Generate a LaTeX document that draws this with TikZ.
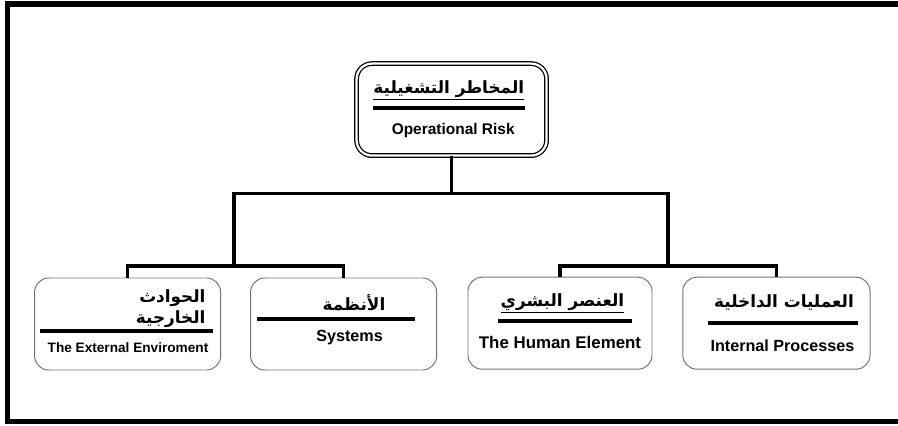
\documentclass[tikz,border=0pt]{standalone}
\usepackage{fontspec}
\setmainfont{Liberation Sans}
\newfontfamily\arabicfont[Script=Arabic]{DejaVu Sans}
\TeXXeTstate=1
\usetikzlibrary{positioning,calc}
\newcommand{\artxt}[1]{{\arabicfont\bfseries\beginR #1\endR}}

\begin{document}
\begin{tikzpicture}[
      font=\bfseries,
      riskbox/.style={draw=black, line width=0.9pt, double=white, double distance=1.6pt,
                      rounded corners=11pt, minimum width=4.75cm, minimum height=2.3cm},
      box/.style={draw=black!55, line width=0.7pt, rounded corners=10pt,
                  minimum width=4.65cm, minimum height=2.3cm},
      artitle/.style={font=\fontsize{12}{14}\selectfont, inner sep=1pt},
      entitle/.style={font=\fontsize{11.5}{13}\selectfont\bfseries, inner sep=1pt},
      bar/.style={line width=2.6pt},
      conn/.style={line width=2.3pt},
      frame/.style={line width=3.6pt}
    ]
    \clip (0,0) rectangle (22.45,-10.65);
    % ------------- Frame -------------
    \draw[frame] (23,-0.1) -- (0.19,-0.1) -- (0.19,-10.54) -- (23,-10.54);
    % ------------- Top -------------
    \node[riskbox] (risk) at (11.29,-2.74) {};
    \node[artitle] (riskAr) at (11.22,-2.26) {\underline{\artxt{المخاطر التشغيلية}}};
    \draw[bar] (9.33,-2.7) -- (13.12,-2.7);
    \node[entitle, font=\fontsize{11}{13}\selectfont\bfseries] (riskEn) at (11.33,-3.25) {Operational Risk};
    % ------------- Boxes -------------
    \node[box] (ext) at (3.19,-8.1) {};
    \node[artitle, align=right, anchor=north east] (extAr) at (5.18,-7.2)
      {\artxt{الحوادث}\\[1pt]\artxt{الخارجية}};
    \draw[bar] (1.0,-8.28) -- (5.32,-8.28);
    \node[entitle, font=\fontsize{9.7}{11}\selectfont\bfseries] (extEn) at (3.2,-8.7) {The External Enviroment};

    \node[box] (sys) at (8.59,-8.1) {};
    \node[artitle] (sysAr) at (8.85,-7.58) {\artxt{الأنظمة}};
    \draw[bar] (6.43,-7.98) -- (10.38,-7.98);
    \node[entitle] (sysEn) at (8.74,-8.45) {Systems};

    \node[box, minimum width=4.6cm] (hum) at (14.0,-8.08) {};
    \node[artitle] (humAr) at (14.06,-7.58) {\underline{\artxt{العنصر البشري}}};
    \draw[bar] (12.45,-8.03) -- (15.8,-8.03);
    \node[entitle, font=\fontsize{12}{14}\selectfont\bfseries] (humEn) at (14.0,-8.55) {The Human Element};

    \node[box, minimum width=4.68cm] (int) at (19.41,-8.08) {};
    \node[artitle] (intAr) at (19.6,-7.55) {\artxt{العمليات الداخلية}};
    \draw[bar] (17.7,-8.08) -- (21.45,-8.08);
    \node[entitle] (intEn) at (19.56,-8.65) {Internal Processes};
    % ------------- Connectors -------------
    \coordinate (hub) at (11.29,-4.83);
    \coordinate (lowL) at (5.85,-6.65);
    \coordinate (lowR) at (16.7,-6.65);
    \draw[conn] (risk.south) -- (hub);
    \draw[conn] (lowL) |- (hub) -| (lowR);
    \draw[conn] (ext.north) |- (lowL) -| (sys.north);
    \draw[conn] (hum.north) |- (lowR) -| (int.north);
  \end{tikzpicture}
\end{document}
